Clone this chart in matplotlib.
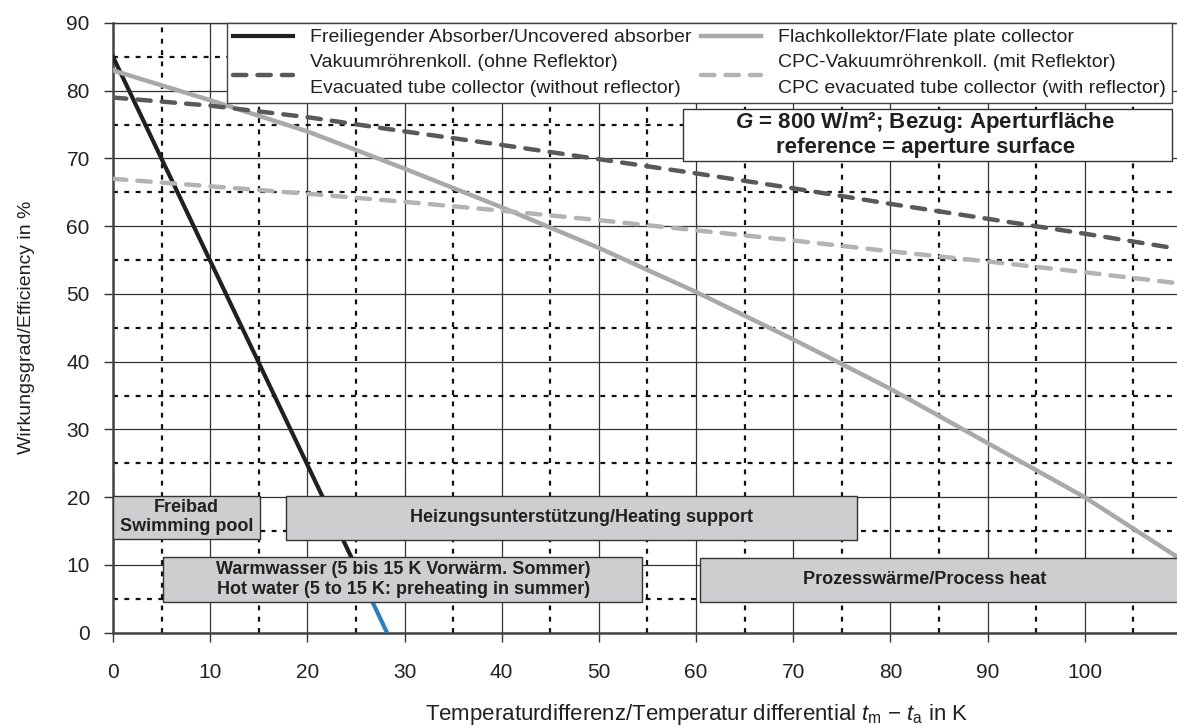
import numpy as np
import matplotlib.pyplot as plt
from matplotlib.patches import Rectangle
from matplotlib.ticker import MultipleLocator

plt.rcParams['font.family'] = ['Liberation Sans', 'DejaVu Sans']
plt.rcParams['mathtext.fontset'] = 'custom'
plt.rcParams['mathtext.rm'] = 'Liberation Sans'
plt.rcParams['mathtext.it'] = 'Liberation Sans:italic'
plt.rcParams['mathtext.bf'] = 'Liberation Sans:bold'
plt.rcParams['mathtext.bfit'] = 'Liberation Sans:bold:italic'

# temperature difference in K
dT = [0, 10, 20, 30, 40, 50, 60, 70, 80, 90, 100, 109.5]
flat_plate = [83, 78.6, 74.0, 68.5, 62.8, 56.8, 50.3, 43.3, 36.0, 28.0, 20.0, 11.2]
evac_tube = [79, 77.8, 76.1, 74.0, 72.0, 69.9, 67.8, 65.6, 63.3, 61.1, 58.9, 56.7]
cpc_tube = [67, 65.9, 64.8, 63.6, 62.3, 60.9, 59.4, 57.9, 56.3, 54.8, 53.2, 51.6]

absorber_dT = [0, 10, 20, 25.7]
absorber = [85, 54.9, 24.8, 7.6]
absorber_tail_dT = [25.7, 28.2]
absorber_tail = [7.6, 0]

# application ranges (x from, x to, y from, y to, label)
ranges = [
    (0, 15.1, 13.9, 20.2, "Freibad\nSwimming pool"),
    (17.8, 76.6, 13.7, 20.2, "Heizungsunterstützung/Heating support"),
    (5.1, 54.4, 4.5, 11.2, "Warmwasser (5 bis 15 K Vorwärm. Sommer)\nHot water (5 to 15 K: preheating in summer)"),
    (60.4, 115, 4.6, 11.1, "Prozesswärme/Process heat"),
]
range_text_x = [7.55, 48.2, 29.9, 83.5]

fig = plt.figure(figsize=(11.77, 7.27), dpi=100)
ax = fig.add_axes([113 / 1177, 94.3 / 727, 1064 / 1177, 609.7 / 727])

ax.set_xlim(0, 109.5)
ax.set_ylim(0, 90)
ax.xaxis.set_major_locator(MultipleLocator(10))
ax.yaxis.set_major_locator(MultipleLocator(10))
ax.xaxis.set_minor_locator(MultipleLocator(5))
ax.yaxis.set_minor_locator(MultipleLocator(5))
ax.set_xticks(np.arange(0, 101, 10))

ax.set_axisbelow(True)
ax.grid(which='major', color='#333333', lw=0.9, ls='-')
ax.grid(which='minor', color='#111111', lw=1.6, ls=(0, (2.2, 2.9)))

ax.tick_params(which='major', direction='out', length=6.7, width=1,
               color='#333333', labelsize=15, labelcolor='#222222')
ax.tick_params(axis='x', pad=15)
ax.tick_params(axis='y', pad=10)
ax.tick_params(which='minor', length=0)

for side in ['left', 'bottom']:
    ax.spines[side].set_linewidth(1.8)
    ax.spines[side].set_color('#444444')
ax.spines['top'].set_linewidth(1)
ax.spines['top'].set_color('#333333')
ax.spines['right'].set_visible(False)

dash = (0, (3, 2.5))
l_abs, = ax.plot(absorber_dT, absorber, color='#231f20', lw=3, zorder=3)
ax.plot(absorber_tail_dT, absorber_tail, color='#2d7fc1', lw=3, zorder=3)
l_flat, = ax.plot(dT, flat_plate, color='#a7a9ac', lw=3.2, zorder=3)
l_evac, = ax.plot(dT, evac_tube, color='#58595b', lw=3.2, ls=dash,
                  dash_capstyle='round', zorder=3)
l_cpc, = ax.plot(dT, cpc_tube, color='#b1b3b6', lw=3.2, ls=dash,
                 dash_capstyle='round', zorder=3)

for (x0, x1, y0, y1, label), tx in zip(ranges, range_text_x):
    ax.add_patch(Rectangle((x0, y0), x1 - x0, y1 - y0, facecolor='#cdcecf',
                           edgecolor='#333333', lw=1, zorder=4))
    ax.text(tx, (y0 + y1) / 2, label, ha='center', va='center', fontsize=13,
            fontweight='bold', color='#231f20', zorder=5, linespacing=1.2)

# G info box
ax.add_patch(Rectangle((58.7, 69.7), 50.3, 7.6, facecolor='white',
                       edgecolor='#333333', lw=1, zorder=5))
ax.text(83.6, 73.6, "$\\mathbfit{G}$ = 800 W/m²; Bezug: Aperturfläche\nreference = aperture surface",
        ha='center', va='center', fontsize=16, fontweight='bold', color='#231f20',
        zorder=6, linespacing=1.1)

leg = ax.legend([l_abs, l_evac, l_flat, l_cpc],
                ["Freiliegender Absorber/Uncovered absorber",
                 "Vakuumröhrenkoll. (ohne Reflektor)\nEvacuated tube collector (without reflector)",
                 "Flachkollektor/Flate plate collector",
                 "CPC-Vakuumröhrenkoll. (mit Reflektor)\nCPC evacuated tube collector (with reflector)"],
                ncol=2, loc='upper left', bbox_to_anchor=(0.1069, 0.871, 0.8884, 0.129),
                mode='expand', borderaxespad=0, fontsize=14, handlelength=3.1,
                handletextpad=0.9, borderpad=0.3, labelspacing=0.4,
                fancybox=False, edgecolor='#444444', framealpha=1)
leg.get_frame().set_linewidth(1)
leg.set_zorder(6)
for t in leg.get_texts():
    t.set_color('#231f20')
    t.set_linespacing(1.65)

ax.set_xlabel("Temperaturdifferenz/Temperatur differential $t_\\mathrm{m}$ $-$ $t_\\mathrm{a}$ in K",
              fontsize=16, color='#231f20')
ax.xaxis.set_label_coords(0.5486, -0.1135)
ax.set_ylabel("Wirkungsgrad/Efficiency in %", fontsize=14, color='#231f20')
ax.yaxis.set_label_coords(-0.073, 0.501)

fig.savefig("out.png", dpi=100)
